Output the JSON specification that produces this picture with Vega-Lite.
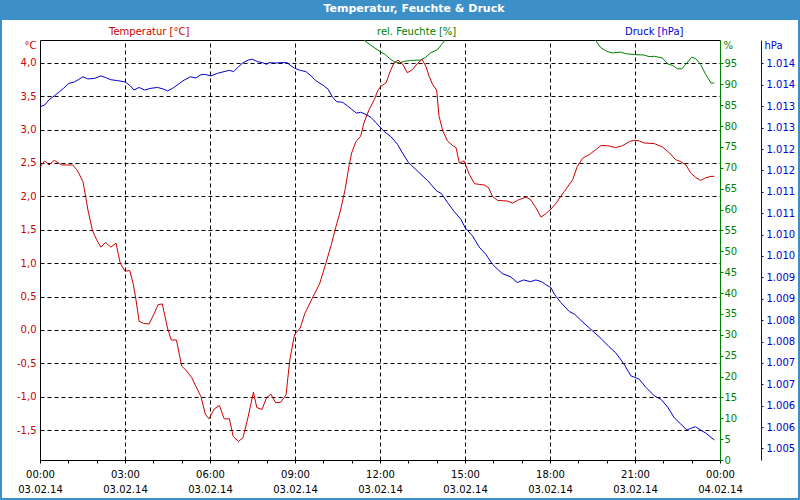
{
"$schema": "https://vega.github.io/schema/vega-lite/v6.json",
"width": 796, "height": 478,
"autosize": {"type": "none"},
"padding": {"left": 2, "top": 20, "right": 2, "bottom": 2},
"background": "#3d8fc8",
"title": {"text": "Temperatur, Feuchte & Druck", "color": "#ffffff", "font": "DejaVu Sans", "fontSize": 11, "fontWeight": "bold", "anchor": "middle", "frame": "group", "baseline": "middle", "offset": 0, "dx": 14},
"config": {
  "view": {"fill": "#ffffff", "stroke": null},
  "font": "DejaVu Sans",
  "axis": {"labelFont": "DejaVu Sans", "labelFontSize": 10, "titleFont": "DejaVu Sans", "titleFontSize": 10, "titleFontWeight": "normal", "labelOverlap": false, "labelFlush": false, "gridColor": "#000000", "gridDash": [4, 3], "gridOpacity": 1, "gridWidth": 1},
  "legend": {"labelFont": "DejaVu Sans", "labelFontSize": 10}
},
"datasets": {
  "temp": [
    {"time": "2014-02-03T00:00Z", "value": 2.44}, {"time": "2014-02-03T00:10Z", "value": 2.53}, {"time": "2014-02-03T00:19Z", "value": 2.47}, {"time": "2014-02-03T00:30Z", "value": 2.54}, {"time": "2014-02-03T00:41Z", "value": 2.49}, {"time": "2014-02-03T00:47Z", "value": 2.47}, {"time": "2014-02-03T01:09Z", "value": 2.47}, {"time": "2014-02-03T01:19Z", "value": 2.39}, {"time": "2014-02-03T01:31Z", "value": 2.22}, {"time": "2014-02-03T01:37Z", "value": 1.98}, {"time": "2014-02-03T01:42Z", "value": 1.78}, {"time": "2014-02-03T01:51Z", "value": 1.49}, {"time": "2014-02-03T02:00Z", "value": 1.35}, {"time": "2014-02-03T02:09Z", "value": 1.24}, {"time": "2014-02-03T02:19Z", "value": 1.31}, {"time": "2014-02-03T02:30Z", "value": 1.24}, {"time": "2014-02-03T02:41Z", "value": 1.30}, {"time": "2014-02-03T02:46Z", "value": 1.13}, {"time": "2014-02-03T02:50Z", "value": 1.0}, {"time": "2014-02-03T03:00Z", "value": 0.88}, {"time": "2014-02-03T03:10Z", "value": 0.89}, {"time": "2014-02-03T03:17Z", "value": 0.70}, {"time": "2014-02-03T03:22Z", "value": 0.51}, {"time": "2014-02-03T03:30Z", "value": 0.13}, {"time": "2014-02-03T03:39Z", "value": 0.10}, {"time": "2014-02-03T03:51Z", "value": 0.09}, {"time": "2014-02-03T04:02Z", "value": 0.25}, {"time": "2014-02-03T04:10Z", "value": 0.38}, {"time": "2014-02-03T04:19Z", "value": 0.39}, {"time": "2014-02-03T04:30Z", "value": 0.03}, {"time": "2014-02-03T04:38Z", "value": -0.15}, {"time": "2014-02-03T04:49Z", "value": -0.15}, {"time": "2014-02-03T05:00Z", "value": -0.54}, {"time": "2014-02-03T05:09Z", "value": -0.60}, {"time": "2014-02-03T05:21Z", "value": -0.71}, {"time": "2014-02-03T05:32Z", "value": -0.87}, {"time": "2014-02-03T05:41Z", "value": -1.0}, {"time": "2014-02-03T05:50Z", "value": -1.26}, {"time": "2014-02-03T05:58Z", "value": -1.33}, {"time": "2014-02-03T06:09Z", "value": -1.18}, {"time": "2014-02-03T06:20Z", "value": -1.13}, {"time": "2014-02-03T06:30Z", "value": -1.33}, {"time": "2014-02-03T06:41Z", "value": -1.33}, {"time": "2014-02-03T06:49Z", "value": -1.59}, {"time": "2014-02-03T07:00Z", "value": -1.67}, {"time": "2014-02-03T07:10Z", "value": -1.61}, {"time": "2014-02-03T07:21Z", "value": -1.29}, {"time": "2014-02-03T07:32Z", "value": -0.93}, {"time": "2014-02-03T07:39Z", "value": -1.16}, {"time": "2014-02-03T07:50Z", "value": -1.19}, {"time": "2014-02-03T08:00Z", "value": -1.01}, {"time": "2014-02-03T08:09Z", "value": -0.96}, {"time": "2014-02-03T08:19Z", "value": -1.09}, {"time": "2014-02-03T08:30Z", "value": -1.08}, {"time": "2014-02-03T08:41Z", "value": -0.97}, {"time": "2014-02-03T08:49Z", "value": -0.45}, {"time": "2014-02-03T08:59Z", "value": -0.07}, {"time": "2014-02-03T09:11Z", "value": 0.03}, {"time": "2014-02-03T09:21Z", "value": 0.25}, {"time": "2014-02-03T09:39Z", "value": 0.51}, {"time": "2014-02-03T09:52Z", "value": 0.69}, {"time": "2014-02-03T10:05Z", "value": 0.99}, {"time": "2014-02-03T10:17Z", "value": 1.28}, {"time": "2014-02-03T10:26Z", "value": 1.53}, {"time": "2014-02-03T10:36Z", "value": 1.78}, {"time": "2014-02-03T10:46Z", "value": 2.10}, {"time": "2014-02-03T10:55Z", "value": 2.48}, {"time": "2014-02-03T11:00Z", "value": 2.65}, {"time": "2014-02-03T11:09Z", "value": 2.82}, {"time": "2014-02-03T11:19Z", "value": 2.90}, {"time": "2014-02-03T11:26Z", "value": 3.10}, {"time": "2014-02-03T11:37Z", "value": 3.30}, {"time": "2014-02-03T11:48Z", "value": 3.45}, {"time": "2014-02-03T11:55Z", "value": 3.58}, {"time": "2014-02-03T12:02Z", "value": 3.65}, {"time": "2014-02-03T12:13Z", "value": 3.70}, {"time": "2014-02-03T12:22Z", "value": 3.88}, {"time": "2014-02-03T12:30Z", "value": 4.0}, {"time": "2014-02-03T12:38Z", "value": 4.04}, {"time": "2014-02-03T12:48Z", "value": 3.98}, {"time": "2014-02-03T12:58Z", "value": 3.85}, {"time": "2014-02-03T13:09Z", "value": 3.90}, {"time": "2014-02-03T13:19Z", "value": 3.99}, {"time": "2014-02-03T13:29Z", "value": 4.05}, {"time": "2014-02-03T13:37Z", "value": 3.95}, {"time": "2014-02-03T13:44Z", "value": 3.80}, {"time": "2014-02-03T13:51Z", "value": 3.68}, {"time": "2014-02-03T14:00Z", "value": 3.59}, {"time": "2014-02-03T14:05Z", "value": 3.20}, {"time": "2014-02-03T14:13Z", "value": 2.98}, {"time": "2014-02-03T14:23Z", "value": 2.83}, {"time": "2014-02-03T14:34Z", "value": 2.76}, {"time": "2014-02-03T14:41Z", "value": 2.73}, {"time": "2014-02-03T14:48Z", "value": 2.50}, {"time": "2014-02-03T14:58Z", "value": 2.53}, {"time": "2014-02-03T15:09Z", "value": 2.33}, {"time": "2014-02-03T15:20Z", "value": 2.19}, {"time": "2014-02-03T15:30Z", "value": 2.18}, {"time": "2014-02-03T15:41Z", "value": 2.17}, {"time": "2014-02-03T15:50Z", "value": 2.13}, {"time": "2014-02-03T15:58Z", "value": 2.0}, {"time": "2014-02-03T16:09Z", "value": 1.94}, {"time": "2014-02-03T16:30Z", "value": 1.93}, {"time": "2014-02-03T16:41Z", "value": 1.90}, {"time": "2014-02-03T16:51Z", "value": 1.94}, {"time": "2014-02-03T17:09Z", "value": 1.99}, {"time": "2014-02-03T17:19Z", "value": 1.95}, {"time": "2014-02-03T17:30Z", "value": 1.83}, {"time": "2014-02-03T17:41Z", "value": 1.69}, {"time": "2014-02-03T17:51Z", "value": 1.74}, {"time": "2014-02-03T18:02Z", "value": 1.81}, {"time": "2014-02-03T18:13Z", "value": 1.90}, {"time": "2014-02-03T18:30Z", "value": 2.07}, {"time": "2014-02-03T18:48Z", "value": 2.25}, {"time": "2014-02-03T18:58Z", "value": 2.45}, {"time": "2014-02-03T19:09Z", "value": 2.57}, {"time": "2014-02-03T19:26Z", "value": 2.64}, {"time": "2014-02-03T19:37Z", "value": 2.70}, {"time": "2014-02-03T19:48Z", "value": 2.76}, {"time": "2014-02-03T20:02Z", "value": 2.76}, {"time": "2014-02-03T20:19Z", "value": 2.73}, {"time": "2014-02-03T20:34Z", "value": 2.76}, {"time": "2014-02-03T20:48Z", "value": 2.82}, {"time": "2014-02-03T20:59Z", "value": 2.84}, {"time": "2014-02-03T21:09Z", "value": 2.83}, {"time": "2014-02-03T21:19Z", "value": 2.80}, {"time": "2014-02-03T21:41Z", "value": 2.79}, {"time": "2014-02-03T21:58Z", "value": 2.74}, {"time": "2014-02-03T22:13Z", "value": 2.65}, {"time": "2014-02-03T22:26Z", "value": 2.55}, {"time": "2014-02-03T22:37Z", "value": 2.52}, {"time": "2014-02-03T22:48Z", "value": 2.47}, {"time": "2014-02-03T22:58Z", "value": 2.35}, {"time": "2014-02-03T23:09Z", "value": 2.28}, {"time": "2014-02-03T23:19Z", "value": 2.24}, {"time": "2014-02-03T23:30Z", "value": 2.28}, {"time": "2014-02-03T23:41Z", "value": 2.30}, {"time": "2014-02-03T23:48Z", "value": 2.30}
  ],
  "hum": [
    {"segment": "a", "time": "2014-02-03T11:26Z", "value": 100.6}, {"segment": "a", "time": "2014-02-03T11:41Z", "value": 99.3}, {"segment": "a", "time": "2014-02-03T12:02Z", "value": 97.7}, {"segment": "a", "time": "2014-02-03T12:09Z", "value": 97.3}, {"segment": "a", "time": "2014-02-03T12:20Z", "value": 96.2}, {"segment": "a", "time": "2014-02-03T12:30Z", "value": 95.4}, {"segment": "a", "time": "2014-02-03T12:41Z", "value": 95.1}, {"segment": "a", "time": "2014-02-03T12:52Z", "value": 95.5}, {"segment": "a", "time": "2014-02-03T13:05Z", "value": 95.7}, {"segment": "a", "time": "2014-02-03T13:26Z", "value": 95.8}, {"segment": "a", "time": "2014-02-03T13:37Z", "value": 96.5}, {"segment": "a", "time": "2014-02-03T13:47Z", "value": 97.5}, {"segment": "a", "time": "2014-02-03T14:02Z", "value": 98.3}, {"segment": "a", "time": "2014-02-03T14:10Z", "value": 99.5}, {"segment": "a", "time": "2014-02-03T14:18Z", "value": 100.6},
    {"segment": "b", "time": "2014-02-03T19:36Z", "value": 100.6}, {"segment": "b", "time": "2014-02-03T19:48Z", "value": 98.7}, {"segment": "b", "time": "2014-02-03T20:00Z", "value": 97.9}, {"segment": "b", "time": "2014-02-03T20:12Z", "value": 97.5}, {"segment": "b", "time": "2014-02-03T20:30Z", "value": 97.7}, {"segment": "b", "time": "2014-02-03T20:41Z", "value": 97.3}, {"segment": "b", "time": "2014-02-03T20:59Z", "value": 97.1}, {"segment": "b", "time": "2014-02-03T21:19Z", "value": 97.0}, {"segment": "b", "time": "2014-02-03T21:30Z", "value": 96.6}, {"segment": "b", "time": "2014-02-03T21:41Z", "value": 96.7}, {"segment": "b", "time": "2014-02-03T21:58Z", "value": 96.3}, {"segment": "b", "time": "2014-02-03T22:09Z", "value": 94.9}, {"segment": "b", "time": "2014-02-03T22:20Z", "value": 94.5}, {"segment": "b", "time": "2014-02-03T22:30Z", "value": 93.7}, {"segment": "b", "time": "2014-02-03T22:39Z", "value": 93.7}, {"segment": "b", "time": "2014-02-03T22:50Z", "value": 95.1}, {"segment": "b", "time": "2014-02-03T23:00Z", "value": 96.5}, {"segment": "b", "time": "2014-02-03T23:09Z", "value": 96.1}, {"segment": "b", "time": "2014-02-03T23:19Z", "value": 94.7}, {"segment": "b", "time": "2014-02-03T23:30Z", "value": 92.3}, {"segment": "b", "time": "2014-02-03T23:41Z", "value": 90.3}, {"segment": "b", "time": "2014-02-03T23:48Z", "value": 90.3}
  ],
  "pres": [
    {"time": "2014-02-03T00:00Z", "value": 1012.99}, {"time": "2014-02-03T00:10Z", "value": 1013.03}, {"time": "2014-02-03T00:19Z", "value": 1013.15}, {"time": "2014-02-03T00:30Z", "value": 1013.24}, {"time": "2014-02-03T00:41Z", "value": 1013.34}, {"time": "2014-02-03T00:50Z", "value": 1013.42}, {"time": "2014-02-03T01:00Z", "value": 1013.53}, {"time": "2014-02-03T01:13Z", "value": 1013.57}, {"time": "2014-02-03T01:21Z", "value": 1013.62}, {"time": "2014-02-03T01:31Z", "value": 1013.69}, {"time": "2014-02-03T01:41Z", "value": 1013.64}, {"time": "2014-02-03T01:55Z", "value": 1013.65}, {"time": "2014-02-03T02:09Z", "value": 1013.71}, {"time": "2014-02-03T02:19Z", "value": 1013.67}, {"time": "2014-02-03T02:30Z", "value": 1013.62}, {"time": "2014-02-03T02:44Z", "value": 1013.60}, {"time": "2014-02-03T03:00Z", "value": 1013.57}, {"time": "2014-02-03T03:11Z", "value": 1013.48}, {"time": "2014-02-03T03:19Z", "value": 1013.38}, {"time": "2014-02-03T03:30Z", "value": 1013.44}, {"time": "2014-02-03T03:41Z", "value": 1013.38}, {"time": "2014-02-03T03:55Z", "value": 1013.42}, {"time": "2014-02-03T04:09Z", "value": 1013.44}, {"time": "2014-02-03T04:22Z", "value": 1013.40}, {"time": "2014-02-03T04:30Z", "value": 1013.36}, {"time": "2014-02-03T04:41Z", "value": 1013.42}, {"time": "2014-02-03T04:51Z", "value": 1013.50}, {"time": "2014-02-03T05:05Z", "value": 1013.61}, {"time": "2014-02-03T05:19Z", "value": 1013.69}, {"time": "2014-02-03T05:30Z", "value": 1013.66}, {"time": "2014-02-03T05:41Z", "value": 1013.74}, {"time": "2014-02-03T05:51Z", "value": 1013.74}, {"time": "2014-02-03T06:02Z", "value": 1013.71}, {"time": "2014-02-03T06:16Z", "value": 1013.77}, {"time": "2014-02-03T06:30Z", "value": 1013.81}, {"time": "2014-02-03T06:41Z", "value": 1013.84}, {"time": "2014-02-03T06:50Z", "value": 1013.81}, {"time": "2014-02-03T07:00Z", "value": 1013.92}, {"time": "2014-02-03T07:10Z", "value": 1014.02}, {"time": "2014-02-03T07:21Z", "value": 1014.08}, {"time": "2014-02-03T07:30Z", "value": 1014.10}, {"time": "2014-02-03T07:41Z", "value": 1014.04}, {"time": "2014-02-03T07:51Z", "value": 1014.02}, {"time": "2014-02-03T08:00Z", "value": 1013.98}, {"time": "2014-02-03T08:05Z", "value": 1014.02}, {"time": "2014-02-03T08:19Z", "value": 1014.01}, {"time": "2014-02-03T08:30Z", "value": 1014.02}, {"time": "2014-02-03T08:43Z", "value": 1014.02}, {"time": "2014-02-03T08:51Z", "value": 1013.95}, {"time": "2014-02-03T08:59Z", "value": 1013.89}, {"time": "2014-02-03T09:11Z", "value": 1013.84}, {"time": "2014-02-03T09:23Z", "value": 1013.81}, {"time": "2014-02-03T09:34Z", "value": 1013.71}, {"time": "2014-02-03T09:44Z", "value": 1013.60}, {"time": "2014-02-03T10:01Z", "value": 1013.48}, {"time": "2014-02-03T10:10Z", "value": 1013.40}, {"time": "2014-02-03T10:19Z", "value": 1013.22}, {"time": "2014-02-03T10:28Z", "value": 1013.11}, {"time": "2014-02-03T10:41Z", "value": 1013.09}, {"time": "2014-02-03T10:51Z", "value": 1013.01}, {"time": "2014-02-03T11:00Z", "value": 1012.93}, {"time": "2014-02-03T11:10Z", "value": 1012.84}, {"time": "2014-02-03T11:19Z", "value": 1012.86}, {"time": "2014-02-03T11:30Z", "value": 1012.81}, {"time": "2014-02-03T11:41Z", "value": 1012.74}, {"time": "2014-02-03T11:51Z", "value": 1012.62}, {"time": "2014-02-03T12:02Z", "value": 1012.49}, {"time": "2014-02-03T12:09Z", "value": 1012.41}, {"time": "2014-02-03T12:23Z", "value": 1012.29}, {"time": "2014-02-03T12:37Z", "value": 1012.11}, {"time": "2014-02-03T12:48Z", "value": 1011.90}, {"time": "2014-02-03T13:00Z", "value": 1011.69}, {"time": "2014-02-03T13:19Z", "value": 1011.49}, {"time": "2014-02-03T13:41Z", "value": 1011.26}, {"time": "2014-02-03T14:00Z", "value": 1011.02}, {"time": "2014-02-03T14:10Z", "value": 1010.96}, {"time": "2014-02-03T14:23Z", "value": 1010.75}, {"time": "2014-02-03T14:37Z", "value": 1010.54}, {"time": "2014-02-03T14:51Z", "value": 1010.36}, {"time": "2014-02-03T15:01Z", "value": 1010.15}, {"time": "2014-02-03T15:16Z", "value": 1009.97}, {"time": "2014-02-03T15:30Z", "value": 1009.71}, {"time": "2014-02-03T15:44Z", "value": 1009.54}, {"time": "2014-02-03T15:58Z", "value": 1009.31}, {"time": "2014-02-03T16:09Z", "value": 1009.19}, {"time": "2014-02-03T16:19Z", "value": 1009.09}, {"time": "2014-02-03T16:37Z", "value": 1009.01}, {"time": "2014-02-03T16:51Z", "value": 1008.88}, {"time": "2014-02-03T17:04Z", "value": 1008.94}, {"time": "2014-02-03T17:19Z", "value": 1008.90}, {"time": "2014-02-03T17:30Z", "value": 1008.94}, {"time": "2014-02-03T17:42Z", "value": 1008.90}, {"time": "2014-02-03T17:51Z", "value": 1008.83}, {"time": "2014-02-03T18:02Z", "value": 1008.76}, {"time": "2014-02-03T18:09Z", "value": 1008.61}, {"time": "2014-02-03T18:23Z", "value": 1008.41}, {"time": "2014-02-03T18:41Z", "value": 1008.20}, {"time": "2014-02-03T18:52Z", "value": 1008.14}, {"time": "2014-02-03T19:05Z", "value": 1008.00}, {"time": "2014-02-03T19:30Z", "value": 1007.75}, {"time": "2014-02-03T19:48Z", "value": 1007.57}, {"time": "2014-02-03T20:05Z", "value": 1007.38}, {"time": "2014-02-03T20:19Z", "value": 1007.24}, {"time": "2014-02-03T20:37Z", "value": 1006.97}, {"time": "2014-02-03T20:51Z", "value": 1006.70}, {"time": "2014-02-03T21:09Z", "value": 1006.62}, {"time": "2014-02-03T21:23Z", "value": 1006.43}, {"time": "2014-02-03T21:41Z", "value": 1006.23}, {"time": "2014-02-03T21:55Z", "value": 1006.15}, {"time": "2014-02-03T22:09Z", "value": 1005.97}, {"time": "2014-02-03T22:23Z", "value": 1005.72}, {"time": "2014-02-03T22:37Z", "value": 1005.57}, {"time": "2014-02-03T22:50Z", "value": 1005.43}, {"time": "2014-02-03T22:58Z", "value": 1005.47}, {"time": "2014-02-03T23:08Z", "value": 1005.51}, {"time": "2014-02-03T23:19Z", "value": 1005.43}, {"time": "2014-02-03T23:30Z", "value": 1005.36}, {"time": "2014-02-03T23:41Z", "value": 1005.26}, {"time": "2014-02-03T23:48Z", "value": 1005.20}
  ]
},
"resolve": {"scale": {"x": "independent", "y": "independent", "color": "independent"}},
"layer": [
  {
    "data": {"name": "pres"},
    "mark": {"type": "line", "strokeWidth": 1},
    "encoding": {
      "x": {"field": "time", "type": "temporal",
        "scale": {"type": "utc", "domain": [{"year": 2014, "month": 2, "date": 3, "hours": 0, "utc": true}, {"year": 2014, "month": 2, "date": 4, "hours": 0, "utc": true}], "range": [38, 718]},
        "axis": null},
      "y": {"field": "value", "type": "quantitative",
        "scale": {"domain": [1004.731, 1014.549], "range": [440, 20], "nice": false, "zero": false},
        "axis": {"orient": "right", "offset": -37, "values": [1005, 1005.5, 1006, 1006.5, 1007, 1007.5, 1008, 1008.5, 1009, 1009.5, 1010, 1010.5, 1011, 1011.5, 1012, 1012.5, 1013, 1013.5, 1014], "labelExpr": "format(round(datum.value) / 1000, '.3f')", "grid": false, "labelColor": "#0000cc", "tickColor": "#0000cc", "domainColor": "#0000cc", "tickSize": 2, "labelPadding": 3, "title": "hPa", "titleAngle": 0, "titleX": 3, "titleY": 25, "titleAlign": "left", "titleBaseline": "middle", "titleColor": "#0000cc"}},
      "color": {"datum": "Druck [hPa]", "scale": {"range": ["#0000cc"]},
        "legend": {"orient": "none", "legendX": 613, "legendY": 7, "title": null, "labelColor": "#0000cc", "symbolOpacity": 0, "symbolSize": 0, "labelOffset": 0, "padding": 0}}
    }
  },
  {
    "data": {"name": "hum"},
    "mark": {"type": "line", "strokeWidth": 1},
    "encoding": {
      "x": {"field": "time", "type": "temporal",
        "scale": {"type": "utc", "domain": [{"year": 2014, "month": 2, "date": 3, "hours": 0, "utc": true}, {"year": 2014, "month": 2, "date": 4, "hours": 0, "utc": true}], "range": [38, 718]},
        "axis": {"orient": "top", "offset": -20, "values": [{"year": 2014, "month": 2, "date": 3, "hours": 3, "utc": true}, {"year": 2014, "month": 2, "date": 3, "hours": 6, "utc": true}, {"year": 2014, "month": 2, "date": 3, "hours": 9, "utc": true}, {"year": 2014, "month": 2, "date": 3, "hours": 12, "utc": true}, {"year": 2014, "month": 2, "date": 3, "hours": 15, "utc": true}, {"year": 2014, "month": 2, "date": 3, "hours": 18, "utc": true}, {"year": 2014, "month": 2, "date": 3, "hours": 21, "utc": true}], "grid": true, "ticks": false, "labels": false, "domain": true, "domainColor": "#000000", "title": null}},
      "y": {"field": "value", "type": "quantitative",
        "scale": {"domain": [0, 100.6], "range": [440, 20], "nice": false, "zero": false},
        "axis": {"orient": "right", "offset": -78, "values": [0, 5, 10, 15, 20, 25, 30, 35, 40, 45, 50, 55, 60, 65, 70, 75, 80, 85, 90, 95], "format": "d", "grid": false, "labelColor": "#008000", "tickColor": "#008000", "domainColor": "#008000", "tickSize": 3, "labelPadding": 1, "title": "%", "titleAngle": 0, "titleX": 3, "titleY": 25, "titleAlign": "left", "titleBaseline": "middle", "titleColor": "#008000"}},
      "detail": {"field": "segment"},
      "color": {"datum": "rel. Feuchte [%]", "scale": {"range": ["#008000"]},
        "legend": {"orient": "none", "legendX": 365, "legendY": 7, "title": null, "labelColor": "#008000", "symbolOpacity": 0, "symbolSize": 0, "labelOffset": 0, "padding": 0}}
    }
  },
  {
    "data": {"name": "temp"},
    "mark": {"type": "line", "strokeWidth": 1},
    "encoding": {
      "x": {"field": "time", "type": "temporal",
        "scale": {"type": "utc", "domain": [{"year": 2014, "month": 2, "date": 3, "hours": 0, "utc": true}, {"year": 2014, "month": 2, "date": 4, "hours": 0, "utc": true}], "range": [38, 718]},
        "axis": {"orient": "bottom", "offset": -38, "values": [{"year": 2014, "month": 2, "date": 3, "hours": 0, "utc": true}, {"year": 2014, "month": 2, "date": 3, "hours": 1, "utc": true}, {"year": 2014, "month": 2, "date": 3, "hours": 2, "utc": true}, {"year": 2014, "month": 2, "date": 3, "hours": 3, "utc": true}, {"year": 2014, "month": 2, "date": 3, "hours": 4, "utc": true}, {"year": 2014, "month": 2, "date": 3, "hours": 5, "utc": true}, {"year": 2014, "month": 2, "date": 3, "hours": 6, "utc": true}, {"year": 2014, "month": 2, "date": 3, "hours": 7, "utc": true}, {"year": 2014, "month": 2, "date": 3, "hours": 8, "utc": true}, {"year": 2014, "month": 2, "date": 3, "hours": 9, "utc": true}, {"year": 2014, "month": 2, "date": 3, "hours": 10, "utc": true}, {"year": 2014, "month": 2, "date": 3, "hours": 11, "utc": true}, {"year": 2014, "month": 2, "date": 3, "hours": 12, "utc": true}, {"year": 2014, "month": 2, "date": 3, "hours": 13, "utc": true}, {"year": 2014, "month": 2, "date": 3, "hours": 14, "utc": true}, {"year": 2014, "month": 2, "date": 3, "hours": 15, "utc": true}, {"year": 2014, "month": 2, "date": 3, "hours": 16, "utc": true}, {"year": 2014, "month": 2, "date": 3, "hours": 17, "utc": true}, {"year": 2014, "month": 2, "date": 3, "hours": 18, "utc": true}, {"year": 2014, "month": 2, "date": 3, "hours": 19, "utc": true}, {"year": 2014, "month": 2, "date": 3, "hours": 20, "utc": true}, {"year": 2014, "month": 2, "date": 3, "hours": 21, "utc": true}, {"year": 2014, "month": 2, "date": 3, "hours": 22, "utc": true}, {"year": 2014, "month": 2, "date": 3, "hours": 23, "utc": true}, {"year": 2014, "month": 2, "date": 4, "hours": 0, "utc": true}],
          "labelExpr": "utchours(datum.value) % 3 == 0 ? [utcFormat(datum.value, '%H:%M'), utcFormat(datum.value, '%d.%m.%y')] : ''",
          "grid": false, "title": null, "domainColor": "#000000", "tickColor": "#000000", "tickSize": 3, "labelColor": "#000000", "labelPadding": 6, "labelLineHeight": 15, "labelAlign": "center", "labelBaseline": "top"}},
      "y": {"field": "value", "type": "quantitative",
        "scale": {"domain": [-1.946, 4.341], "range": [440, 20], "nice": false, "zero": false},
        "axis": {"orient": "left", "offset": -38, "values": [-1.5, -1, -0.5, 0, 0.5, 1, 1.5, 2, 2.5, 3, 3.5, 4], "labelExpr": "replace(replace(format(datum.value, '.1f'), '.', ','), '\u2212', '-')", "labelColor": "#cc0000", "tickSize": 0, "labelPadding": 4, "grid": true, "domainColor": "#000000", "title": "°C", "titleAngle": 0, "titleX": -4, "titleY": 25, "titleAlign": "right", "titleBaseline": "middle", "titleColor": "#cc0000"}},
      "color": {"datum": "Temperatur [°C]", "scale": {"range": ["#cc0000"]},
        "legend": {"orient": "none", "legendX": 97, "legendY": 7, "title": null, "labelColor": "#cc0000", "symbolOpacity": 0, "symbolSize": 0, "labelOffset": 0, "padding": 0}}
    }
  }
]
}
